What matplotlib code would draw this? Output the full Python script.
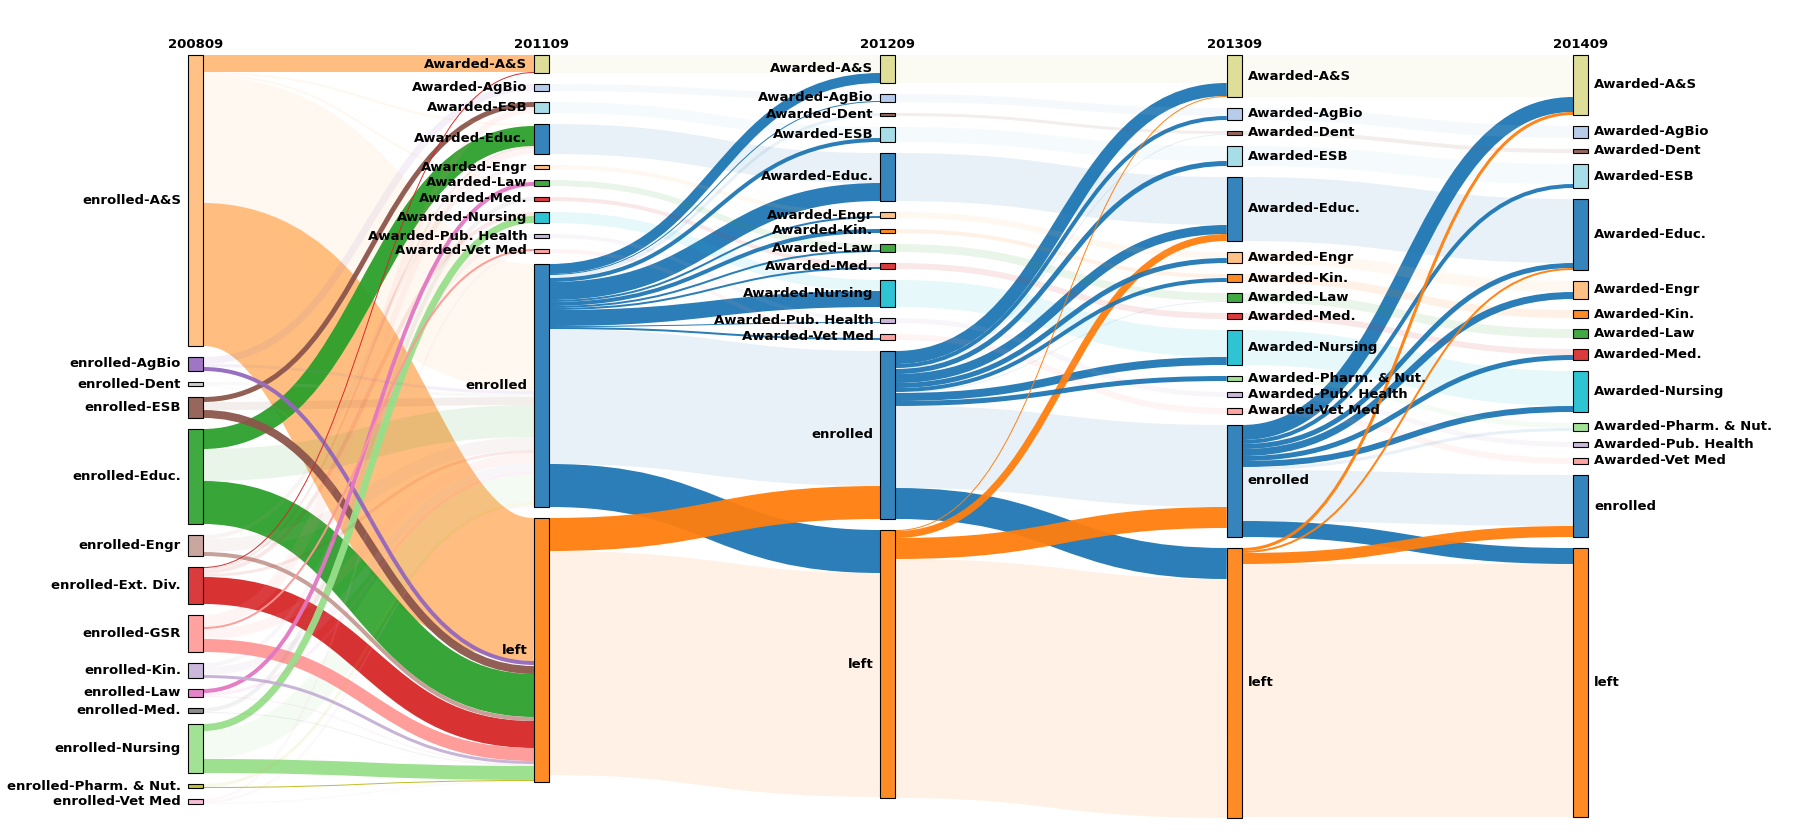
import matplotlib
matplotlib.use("Agg")
import matplotlib.pyplot as plt
from matplotlib.path import Path
from matplotlib.patches import PathPatch, Rectangle
from matplotlib.colors import to_rgba

# ---- data ----
years = ["200809", "201109", "201209", "201309", "201409"]

col_200809 = ["enrolled-A&S", "enrolled-AgBio", "enrolled-Dent", "enrolled-ESB",
              "enrolled-Educ.", "enrolled-Engr", "enrolled-Ext. Div.", "enrolled-GSR",
              "enrolled-Kin.", "enrolled-Law", "enrolled-Med.", "enrolled-Nursing",
              "enrolled-Pharm. & Nut.", "enrolled-Vet Med"]
col_201109 = ["Awarded-A&S", "Awarded-AgBio", "Awarded-ESB", "Awarded-Educ.", "Awarded-Engr",
              "Awarded-Law", "Awarded-Med.", "Awarded-Nursing", "Awarded-Pub. Health",
              "Awarded-Vet Med", "enrolled", "left"]
col_201209 = ["Awarded-A&S", "Awarded-AgBio", "Awarded-Dent", "Awarded-ESB", "Awarded-Educ.",
              "Awarded-Engr", "Awarded-Kin.", "Awarded-Law", "Awarded-Med.", "Awarded-Nursing",
              "Awarded-Pub. Health", "Awarded-Vet Med", "enrolled", "left"]
col_201309 = ["Awarded-A&S", "Awarded-AgBio", "Awarded-Dent", "Awarded-ESB", "Awarded-Educ.",
              "Awarded-Engr", "Awarded-Kin.", "Awarded-Law", "Awarded-Med.", "Awarded-Nursing",
              "Awarded-Pharm. & Nut.", "Awarded-Pub. Health", "Awarded-Vet Med", "enrolled", "left"]
col_201409 = list(col_201309)

# (source, target, value, highlighted)
flows_0809_1109 = [
    ("enrolled-A&S", "Awarded-A&S", 17, 1), ("enrolled-A&S", "Awarded-Educ.", 2, 0),
    ("enrolled-A&S", "Awarded-Law", 2, 0), ("enrolled-A&S", "enrolled", 127, 0),
    ("enrolled-A&S", "left", 143, 1),
    ("enrolled-AgBio", "Awarded-AgBio", 7, 0), ("enrolled-AgBio", "enrolled", 3, 0),
    ("enrolled-AgBio", "left", 4, 1),
    ("enrolled-Dent", "enrolled", 3, 0), ("enrolled-Dent", "left", 1, 0),
    ("enrolled-ESB", "Awarded-ESB", 5, 1), ("enrolled-ESB", "enrolled", 8, 0),
    ("enrolled-ESB", "left", 8, 1),
    ("enrolled-Educ.", "Awarded-Educ.", 20, 1), ("enrolled-Educ.", "enrolled", 32, 0),
    ("enrolled-Educ.", "left", 43, 1),
    ("enrolled-Engr", "Awarded-Engr", 4, 0), ("enrolled-Engr", "enrolled", 13, 0),
    ("enrolled-Engr", "left", 4, 1),
    ("enrolled-Ext. Div.", "Awarded-A&S", 1, 1), ("enrolled-Ext. Div.", "Awarded-Educ.", 2, 0),
    ("enrolled-Ext. Div.", "Awarded-Nursing", 4, 0), ("enrolled-Ext. Div.", "enrolled", 3, 0),
    ("enrolled-Ext. Div.", "left", 27, 1),
    ("enrolled-GSR", "Awarded-ESB", 6, 0), ("enrolled-GSR", "Awarded-Educ.", 6, 0),
    ("enrolled-GSR", "Awarded-Vet Med", 2, 1), ("enrolled-GSR", "enrolled", 10, 0),
    ("enrolled-GSR", "left", 13, 1),
    ("enrolled-Kin.", "Awarded-Pub. Health", 4, 0), ("enrolled-Kin.", "enrolled", 8, 0),
    ("enrolled-Kin.", "left", 3, 1),
    ("enrolled-Law", "Awarded-Law", 4, 1), ("enrolled-Law", "enrolled", 3, 0),
    ("enrolled-Law", "left", 1, 0),
    ("enrolled-Med.", "Awarded-Med.", 4, 0), ("enrolled-Med.", "left", 1, 0),
    ("enrolled-Nursing", "Awarded-Nursing", 7, 1), ("enrolled-Nursing", "enrolled", 28, 0),
    ("enrolled-Nursing", "left", 14, 1),
    ("enrolled-Pharm. & Nut.", "enrolled", 3, 0), ("enrolled-Pharm. & Nut.", "left", 1, 1),
    ("enrolled-Vet Med", "Awarded-Vet Med", 2, 0), ("enrolled-Vet Med", "enrolled", 2, 0),
    ("enrolled-Vet Med", "left", 1, 0),
]

flows_1109_1209 = [
    ("Awarded-A&S", "Awarded-A&S", 18, 0), ("Awarded-AgBio", "Awarded-AgBio", 7, 0),
    ("Awarded-ESB", "Awarded-ESB", 11, 0), ("Awarded-Educ.", "Awarded-Educ.", 30, 0),
    ("Awarded-Engr", "Awarded-Engr", 4, 0), ("Awarded-Law", "Awarded-Law", 6, 0),
    ("Awarded-Med.", "Awarded-Med.", 4, 0), ("Awarded-Nursing", "Awarded-Nursing", 11, 0),
    ("Awarded-Pub. Health", "Awarded-Pub. Health", 4, 0), ("Awarded-Vet Med", "Awarded-Vet Med", 4, 0),
    ("enrolled", "Awarded-A&S", 10, 1), ("enrolled", "Awarded-AgBio", 1, 1),
    ("enrolled", "Awarded-Dent", 3, 0), ("enrolled", "Awarded-ESB", 4, 1),
    ("enrolled", "Awarded-Educ.", 18, 1), ("enrolled", "Awarded-Engr", 2, 1),
    ("enrolled", "Awarded-Kin.", 4, 1), ("enrolled", "Awarded-Law", 2, 1),
    ("enrolled", "Awarded-Med.", 2, 1), ("enrolled", "Awarded-Nursing", 16, 1),
    ("enrolled", "Awarded-Pub. Health", 1, 1), ("enrolled", "Awarded-Vet Med", 2, 1),
    ("enrolled", "enrolled", 135, 0), ("enrolled", "left", 43, 1),
    ("left", "enrolled", 33, 1), ("left", "left", 224, 0),
]

flows_1209_1309 = [
    ("Awarded-A&S", "Awarded-A&S", 28, 0), ("Awarded-AgBio", "Awarded-AgBio", 8, 0),
    ("Awarded-Dent", "Awarded-Dent", 3, 0), ("Awarded-ESB", "Awarded-ESB", 15, 0),
    ("Awarded-Educ.", "Awarded-Educ.", 48, 0), ("Awarded-Engr", "Awarded-Engr", 6, 0),
    ("Awarded-Kin.", "Awarded-Kin.", 4, 0), ("Awarded-Law", "Awarded-Law", 8, 0),
    ("Awarded-Med.", "Awarded-Med.", 6, 0), ("Awarded-Nursing", "Awarded-Nursing", 27, 0),
    ("Awarded-Pub. Health", "Awarded-Pub. Health", 5, 0), ("Awarded-Vet Med", "Awarded-Vet Med", 6, 0),
    ("enrolled", "Awarded-A&S", 13, 1), ("enrolled", "Awarded-AgBio", 4, 1),
    ("enrolled", "Awarded-Dent", 1, 0), ("enrolled", "Awarded-ESB", 5, 1),
    ("enrolled", "Awarded-Educ.", 9, 1), ("enrolled", "Awarded-Engr", 5, 1),
    ("enrolled", "Awarded-Kin.", 4, 1), ("enrolled", "Awarded-Law", 1, 0),
    ("enrolled", "Awarded-Nursing", 8, 1), ("enrolled", "Awarded-Pharm. & Nut.", 5, 1),
    ("enrolled", "enrolled", 82, 0), ("enrolled", "left", 31, 1),
    ("left", "Awarded-A&S", 1, 1), ("left", "Awarded-Educ.", 7, 1),
    ("left", "enrolled", 21, 1), ("left", "left", 239, 0),
]

flows_1309_1409 = [
    ("Awarded-A&S", "Awarded-A&S", 42, 0), ("Awarded-AgBio", "Awarded-AgBio", 12, 0),
    ("Awarded-Dent", "Awarded-Dent", 4, 0), ("Awarded-ESB", "Awarded-ESB", 20, 0),
    ("Awarded-Educ.", "Awarded-Educ.", 64, 0), ("Awarded-Engr", "Awarded-Engr", 11, 0),
    ("Awarded-Kin.", "Awarded-Kin.", 8, 0), ("Awarded-Law", "Awarded-Law", 9, 0),
    ("Awarded-Med.", "Awarded-Med.", 6, 0), ("Awarded-Nursing", "Awarded-Nursing", 35, 0),
    ("Awarded-Pharm. & Nut.", "Awarded-Pharm. & Nut.", 5, 0),
    ("Awarded-Pub. Health", "Awarded-Pub. Health", 5, 0), ("Awarded-Vet Med", "Awarded-Vet Med", 6, 0),
    ("enrolled", "Awarded-A&S", 15, 1), ("enrolled", "Awarded-ESB", 4, 1),
    ("enrolled", "Awarded-Educ.", 5, 1), ("enrolled", "Awarded-Engr", 7, 1),
    ("enrolled", "Awarded-Med.", 5, 1), ("enrolled", "Awarded-Nursing", 6, 1),
    ("enrolled", "Awarded-Pharm. & Nut.", 3, 0), ("enrolled", "enrolled", 51, 0),
    ("enrolled", "left", 16, 1),
    ("left", "Awarded-A&S", 3, 1), ("left", "Awarded-Educ.", 2, 1),
    ("left", "enrolled", 11, 1), ("left", "left", 253, 0),
]

columns = [col_200809, col_201109, col_201209, col_201309, col_201409]
transitions = [flows_0809_1109, flows_1109_1209, flows_1209_1309, flows_1309_1409]

# category20-style colours per node name
colors = {
    "enrolled-A&S": "#ffbb78", "enrolled-AgBio": "#9467bd", "enrolled-Dent": "#c7c7c7",
    "enrolled-ESB": "#8c564b", "enrolled-Educ.": "#2ca02c", "enrolled-Engr": "#c49c94",
    "enrolled-Ext. Div.": "#d62728", "enrolled-GSR": "#ff9896", "enrolled-Kin.": "#c5b0d5",
    "enrolled-Law": "#e377c2", "enrolled-Med.": "#7f7f7f", "enrolled-Nursing": "#98df8a",
    "enrolled-Pharm. & Nut.": "#bcbd22", "enrolled-Vet Med": "#f7b6d2",
    "Awarded-A&S": "#dbdb8d", "Awarded-AgBio": "#aec7e8", "Awarded-Dent": "#8c564b",
    "Awarded-ESB": "#9edae5", "Awarded-Educ.": "#1f77b4", "Awarded-Engr": "#ffbb78",
    "Awarded-Kin.": "#ff7f0e", "Awarded-Law": "#2ca02c", "Awarded-Med.": "#d62728",
    "Awarded-Nursing": "#17becf", "Awarded-Pharm. & Nut.": "#98df8a",
    "Awarded-Pub. Health": "#c5b0d5", "Awarded-Vet Med": "#ff9896",
    "enrolled": "#1f77b4", "left": "#ff7f0e",
}

# ---- layout ----
W, H = 1808, 836
col_x = [188 + i * 346.25 for i in range(len(columns))]
node_w = 15
top = 55
pad = 11

links = []
for i, flows in enumerate(transitions):
    for s, t, v, h in flows:
        links.append({"col": i, "s": s, "t": t, "v": v, "hl": h})

order = {}
for i, names in enumerate(columns):
    for k, n in enumerate(names):
        order[(i, n)] = k

# node size = max(inflow, outflow)
val = {}
for i, names in enumerate(columns):
    for n in names:
        out_v = sum(l["v"] for l in links if l["col"] == i and l["s"] == n)
        in_v = sum(l["v"] for l in links if l["col"] == i - 1 and l["t"] == n)
        val[(i, n)] = max(out_v, in_v)

ypos = {}
for i, names in enumerate(columns):
    y = top
    for n in names:
        ypos[(i, n)] = y
        y += val[(i, n)] + pad

# stack links on each node, ordered by the position of the other end
for (i, n) in val:
    outs = [l for l in links if l["col"] == i and l["s"] == n]
    outs.sort(key=lambda l: order[(i + 1, l["t"])])
    off = 0
    for l in outs:
        l["sy"] = ypos[(i, n)] + off + l["v"] / 2
        off += l["v"]
    ins = [l for l in links if l["col"] == i - 1 and l["t"] == n]
    ins.sort(key=lambda l: order[(i - 1, l["s"])])
    off = 0
    for l in ins:
        l["ty"] = ypos[(i, n)] + off + l["v"] / 2
        off += l["v"]

fig = plt.figure(figsize=(W / 100, H / 100), dpi=100)
ax = fig.add_axes([0, 0, 1, 1])
ax.set_xlim(0, W)
ax.set_ylim(H, 0)
ax.axis("off")

px = 72 / 100  # points per pixel

# links, biggest first so thin ones end up on top
for l in sorted(links, key=lambda l: -l["v"]):
    x0 = col_x[l["col"]] + node_w
    x1 = col_x[l["col"] + 1]
    xm = (x0 + x1) / 2
    path = Path([(x0, l["sy"]), (xm, l["sy"]), (xm, l["ty"]), (x1, l["ty"])],
                [Path.MOVETO, Path.CURVE4, Path.CURVE4, Path.CURVE4])
    ax.add_patch(PathPatch(path, fill=False, ec=colors[l["s"]], lw=l["v"] * px,
                           alpha=0.95 if l["hl"] else 0.1, capstyle="butt"))

font = dict(fontsize=9.5, fontweight="bold", family="DejaVu Sans", color="black")

for i, names in enumerate(columns):
    x = col_x[i]
    for n in names:
        y, v = ypos[(i, n)], val[(i, n)]
        ax.add_patch(Rectangle((x, y), node_w, v, fc=to_rgba(colors[n], 0.9),
                               ec="black", lw=0.8))
        if i < 3:
            ax.text(x - 7, y + v / 2, n, ha="right", va="center", **font)
        else:
            ax.text(x + node_w + 6, y + v / 2, n, ha="left", va="center", **font)
    ax.text(x + node_w / 2, 44, years[i], ha="center", va="center", **font)

fig.savefig("out.png", dpi=100)
